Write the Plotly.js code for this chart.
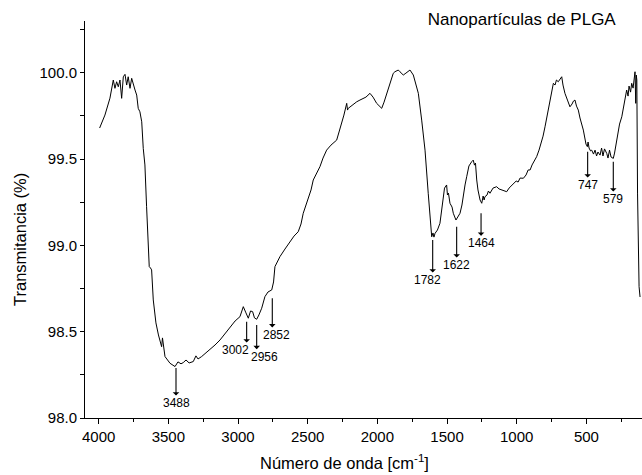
<!DOCTYPE html>
<html>
<head>
<meta charset="utf-8">
<script src="https://cdn.plot.ly/plotly-3.0.1.min.js"></script>
<style>html,body{margin:0;padding:0;background:#fff}#chart{width:642px;height:475px}</style>
</head>
<body>
<div id="chart"></div>
<script>
// Wavenumber axis values
const wavenumber = [3993,3955,3919,3895,3883,3871,3859,3847,3835,3823,
3811,3799,3788,3775,3763,3752,3739,3727,3716,3704,
3691,3680,3668,3656,3637,3628,3620,3608,3589,3571,
3560,3548,3542,3524,3488,3452,3431,3409,3393,3373,
3351,3321,3302,3287,3261,3230,3201,3165,3129,3094,
3058,3021,2986,2962,2943,2926,2910,2895,2882,2866,
2850,2830,2807,2785,2758,2745,2735,2699,2663,2627,
2598,2568,2548,2532,2512,2496,2476,2460,2433,2412,
2390,2364,2333,2292,2275,2256,2240,2220,2214,2209,
2182,2148,2125,2101,2082,2053,2031,2005,1988,1969,
1952,1933,1909,1886,1874,1850,1838,1814,1795,1766,
1742,1723,1706,1682,1658,1635,1622,1610,1601,1594,
1586,1569,1551,1540,1527,1518,1503,1497,1490,1479,
1464,1455,1436,1422,1407,1393,1383,1371,1359,1350,
1343,1323,1312,1303,1296,1287,1278,1263,1251,1241,
1234,1228,1213,1203,1192,1170,1144,1127,1108,1091,
1072,1055,1040,1024,1004,990,976,952,933,918,
904,890,875,857,840,821,811,797,783,772,
761,737,725,715,702,690,677,668,654,636,
618,603,593,582,571,558,546,522,510,503,
493,488,481,470,462,449,438,427,417,402,
391,381,370,354,345,334,323,307,298,282,
273,262,246,237,226,211,201,194,183,175,
165,158,151,146,142,138,133,122,115];

const transmitancia = [99.68,99.755,99.853,99.958,99.910,99.948,99.919,99.958,99.852,99.977,
99.991,99.929,99.977,99.910,99.968,99.929,99.900,99.871,99.794,99.774,
99.716,99.562,99.466,99.224,98.877,98.869,98.858,98.684,98.551,98.481,
98.452,98.413,98.464,98.356,98.317,98.298,98.325,98.314,98.321,98.336,
98.319,98.327,98.360,98.342,98.356,98.377,98.394,98.423,98.452,98.487,
98.529,98.562,98.587,98.645,98.609,98.578,98.620,98.616,98.580,98.572,
98.597,98.636,98.703,98.730,98.742,98.788,98.877,98.935,98.979,99.021,
99.054,99.079,99.124,99.186,99.234,99.263,99.321,99.379,99.425,99.456,
99.506,99.552,99.581,99.610,99.657,99.707,99.755,99.823,99.784,99.794,
99.813,99.832,99.842,99.852,99.859,99.881,99.859,99.823,99.807,99.794,
99.830,99.877,99.935,99.997,100.006,100.016,100.006,99.987,99.998,100.016,
99.987,99.929,99.881,99.726,99.552,99.302,99.147,99.050,99.072,99.048,
99.070,99.089,99.128,99.205,99.302,99.332,99.350,99.292,99.303,99.244,
99.222,99.186,99.147,99.170,99.186,99.234,99.302,99.350,99.398,99.425,
99.460,99.485,99.494,99.465,99.477,99.379,99.321,99.263,99.244,99.286,
99.263,99.282,99.292,99.315,99.302,99.332,99.340,99.327,99.321,99.315,
99.311,99.332,99.344,99.360,99.373,99.367,99.390,99.389,99.408,99.437,
99.437,99.466,99.489,99.514,99.552,99.600,99.633,99.687,99.743,99.796,
99.842,99.939,99.929,99.958,99.948,99.964,99.977,99.929,99.881,99.842,
99.803,99.819,99.836,99.842,99.807,99.784,99.738,99.668,99.622,99.587,
99.572,99.599,99.564,99.547,99.552,99.529,99.552,99.518,99.541,99.523,
99.564,99.518,99.559,99.533,99.506,99.552,99.512,99.504,99.535,99.610,
99.639,99.703,99.745,99.784,99.842,99.900,99.865,99.923,99.888,99.939,
99.911,99.987,100.006,99.823,99.987,99.958,99.303,98.761,98.701];

// Peak labels
const peakLabels = ['3488','3002','2956','2852','1782','1622','1464','747','579'];

// Layout placement of the peak arrows (top of each arrow, axis coordinates)
const arrowTopX  = [3445,2938,2866,2754,1603,1431,1256,491,307];
const arrowTopY  = [98.290,98.558,98.539,98.694,99.031,99.108,99.186,99.543,99.485];
const labelDrop  = [35,28.3,31.7,36.7,40,38.3,30,33.3,37.3];      // px from arrow top to label centre
const labelBoxW  = [null,49,42,36,37,null,null,null,null];        // widened boxes shift label off the arrow
const labelAlign = ['center','left','right','right','left','center','center','center','center'];

const FONT = 'Liberation Sans, Arial, sans-serif';
const annotations = [];
peakLabels.forEach((lab, i) => {
  const a = {x: arrowTopX[i], y: arrowTopY[i], xref:'x', yref:'y', text: lab,
    showarrow:true, arrowside:'start', ax:0, ay:labelDrop[i],
    arrowhead:2, arrowsize:1.3, arrowwidth:1.1, arrowcolor:'#000',
    align: labelAlign[i], borderpad:0,
    font:{family:FONT, size:12, color:'#000'}};
  if (labelBoxW[i]) a.width = labelBoxW[i];
  annotations.push(a);
});
annotations.push({xref:'paper', yref:'paper', x:(344-85)/557, y:(418-462)/397, xanchor:'center', yanchor:'middle',
  text:'Número de onda [cm<sup>-1</sup>]', showarrow:false, font:{family:FONT, size:16.5, color:'#000'}});
annotations.push({xref:'paper', yref:'paper', x:(20-85)/557, y:(418-240)/397, xanchor:'center', yanchor:'middle',
  text:'Transmitancia (%)', textangle:-90, showarrow:false, font:{family:FONT, size:16.5, color:'#000'}});

const trace = {x: wavenumber, y: transmitancia, type:'scatter', mode:'lines',
  line:{color:'#000', width:1}, hoverinfo:'skip'};

const layout = {
  width:642, height:475,
  margin:{l:85, r:0, t:21, b:57},
  paper_bgcolor:'#fff', plot_bgcolor:'#fff',
  showlegend:false,
  font:{family:FONT, color:'#000'},
  title:{text:'Nanopartículas de PLGA', font:{family:FONT, size:17, color:'#000'},
    xref:'container', yref:'container', x:521.7/642, xanchor:'center', y:1-18.8/475, yanchor:'middle', pad:{t:0,b:0,l:0,r:0}},
  xaxis:{range:[4098,101], showline:true, linecolor:'#000', linewidth:1, showgrid:false, zeroline:false,
    ticks:'outside', ticklen:5, tickwidth:1, tickcolor:'#000', dtick:500, tick0:0,
    tickfont:{family:FONT, size:15, color:'#000'},
    minor:{ticks:'outside', ticklen:3, dtick:250, tick0:0, tickcolor:'#000', showgrid:false}},
  yaxis:{range:[98,100.3], showline:true, linecolor:'#000', linewidth:1, showgrid:false, zeroline:false,
    ticks:'outside', ticklen:4, tickwidth:1, tickcolor:'#000', dtick:0.5, tick0:98, tickformat:'.1f',
    tickfont:{family:FONT, size:15, color:'#000'},
    minor:{ticks:'outside', ticklen:4, dtick:0.25, tick0:98, tickcolor:'#000', showgrid:false}},
  annotations: annotations
};

Plotly.newPlot('chart', [trace], layout, {displayModeBar:false, staticPlot:true});
</script>
</body>
</html>
